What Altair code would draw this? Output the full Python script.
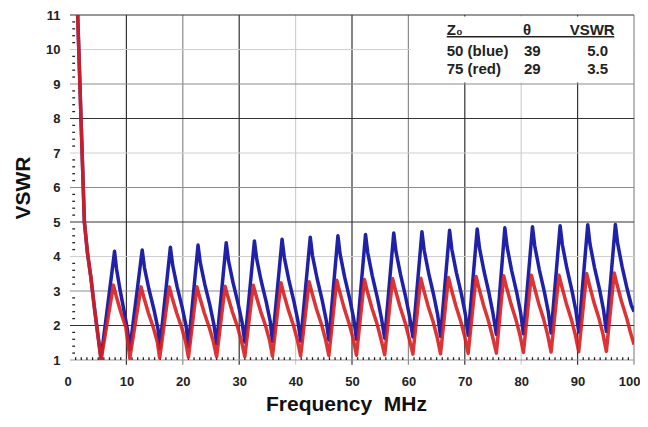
import altair as alt
import pandas as pd

# ---- data ----
blue_f = [1.3, 1.5, 1.95, 2.15, 2.35, 2.55, 3.1, 3.7, 4.3, 4.9, 5.5,
          7.9, 8.25, 8.9, 9.6, 10.2, 10.6,
          12.8, 13.2, 14.0, 14.9, 15.6, 15.9,
          17.8, 18.2, 19.0, 19.9, 20.6, 21.0,
          22.7, 23.1, 23.9, 24.8, 25.5, 26.0,
          27.7, 28.1, 28.9, 29.8, 30.5, 31.0,
          32.7, 33.1, 33.9, 34.8, 35.5, 35.9,
          37.6, 38.0, 38.8, 39.7, 40.4, 40.9,
          42.6, 43.0, 43.8, 44.7, 45.4, 45.9,
          47.5, 47.9, 48.7, 49.6, 50.3, 50.8,
          52.4, 52.8, 53.6, 54.5, 55.2, 55.8,
          57.4, 57.8, 58.6, 59.5, 60.2, 60.8,
          62.4, 62.8, 63.6, 64.5, 65.2, 65.7,
          67.3, 67.7, 68.5, 69.4, 70.1, 70.6,
          72.2, 72.6, 73.4, 74.3, 75.0, 75.6,
          77.1, 77.5, 78.3, 79.2, 79.9, 80.4,
          82.0, 82.4, 83.2, 84.1, 84.8, 85.3,
          86.9, 87.3, 88.1, 89.0, 89.7, 90.2,
          91.8, 92.2, 93.0, 93.9, 94.6, 95.1,
          96.7, 97.1, 97.9, 98.8, 99.5, 100.0]
blue_v = [11.3, 10.3, 8.0, 7.0, 6.0, 5.0, 4.1, 3.4, 2.55, 1.78, 1.05,
          4.15, 3.64, 3.01, 2.41, 1.87, 1.30,
          4.19, 3.68, 3.05, 2.45, 1.90, 1.33,
          4.27, 3.75, 3.12, 2.52, 1.97, 1.40,
          4.33, 3.82, 3.19, 2.59, 2.04, 1.47,
          4.40, 3.88, 3.25, 2.64, 2.10, 1.52,
          4.45, 3.93, 3.29, 2.68, 2.12, 1.54,
          4.50, 3.97, 3.32, 2.70, 2.14, 1.55,
          4.56, 4.02, 3.37, 2.74, 2.18, 1.58,
          4.60, 4.06, 3.40, 2.77, 2.20, 1.60,
          4.64, 4.10, 3.44, 2.80, 2.23, 1.63,
          4.68, 4.14, 3.48, 2.84, 2.27, 1.67,
          4.72, 4.18, 3.51, 2.87, 2.30, 1.69,
          4.76, 4.21, 3.54, 2.91, 2.33, 1.72,
          4.80, 4.25, 3.58, 2.93, 2.35, 1.74,
          4.83, 4.28, 3.60, 2.96, 2.37, 1.76,
          4.86, 4.31, 3.63, 2.98, 2.40, 1.78,
          4.89, 4.34, 3.66, 3.01, 2.43, 1.81,
          4.92, 4.36, 3.68, 3.04, 2.45, 1.83,
          4.93, 4.38, 3.70, 3.05, 2.60, 2.40]

red_f = [1.3, 1.5, 1.95, 2.15, 2.35, 2.55, 3.1, 3.7, 4.3, 4.9, 5.5,
         7.7, 8.2, 9.0, 9.9, 10.3, 10.6,
         12.6, 13.1, 13.9, 14.8, 15.5, 15.9,
         17.6, 18.1, 18.9, 19.8, 20.5, 21.0,
         22.5, 23.0, 23.8, 24.7, 25.4, 26.0,
         27.5, 28.0, 28.8, 29.7, 30.4, 31.0,
         32.5, 33.0, 33.8, 34.7, 35.4, 35.9,
         37.4, 37.9, 38.7, 39.6, 40.3, 40.9,
         42.4, 42.9, 43.7, 44.6, 45.3, 45.9,
         47.3, 47.8, 48.6, 49.5, 50.2, 50.8,
         52.2, 52.7, 53.5, 54.4, 55.1, 55.8,
         57.2, 57.7, 58.5, 59.4, 60.1, 60.8,
         62.2, 62.7, 63.5, 64.4, 65.1, 65.7,
         67.1, 67.6, 68.4, 69.3, 70.0, 70.6,
         72.0, 72.5, 73.3, 74.2, 74.9, 75.6,
         76.9, 77.4, 78.2, 79.1, 79.8, 80.4,
         81.8, 82.3, 83.1, 84.0, 84.7, 85.3,
         86.7, 87.2, 88.0, 88.9, 89.6, 90.2,
         91.6, 92.1, 92.9, 93.8, 94.5, 95.1,
         96.5, 97.0, 97.8, 98.7, 99.4, 100.0]
red_v = [11.3, 10.3, 8.0, 7.0, 6.0, 5.0, 4.1, 3.4, 2.55, 1.78, 1.00,
         3.17, 2.85, 2.39, 1.94, 1.47, 1.05,
         3.12, 2.81, 2.36, 1.93, 1.51, 1.06,
         3.12, 2.81, 2.37, 1.94, 1.53, 1.08,
         3.12, 2.82, 2.37, 1.94, 1.54, 1.09,
         3.14, 2.83, 2.39, 1.96, 1.55, 1.10,
         3.17, 2.86, 2.41, 1.98, 1.56, 1.11,
         3.24, 2.92, 2.46, 2.01, 1.59, 1.12,
         3.27, 2.95, 2.48, 2.03, 1.60, 1.13,
         3.31, 2.99, 2.51, 2.05, 1.62, 1.14,
         3.33, 3.00, 2.52, 2.07, 1.63, 1.15,
         3.36, 3.03, 2.55, 2.09, 1.65, 1.17,
         3.37, 3.04, 2.56, 2.10, 1.66, 1.18,
         3.39, 3.06, 2.58, 2.11, 1.67, 1.19,
         3.42, 3.09, 2.60, 2.13, 1.69, 1.20,
         3.44, 3.11, 2.62, 2.15, 1.71, 1.22,
         3.46, 3.13, 2.64, 2.17, 1.72, 1.23,
         3.46, 3.13, 2.64, 2.17, 1.73, 1.24,
         3.51, 3.17, 2.67, 2.20, 1.75, 1.25,
         3.52, 3.18, 2.69, 2.22, 1.78, 1.45]

x_ticks = [0, 10, 20, 30, 40, 50, 60, 70, 80, 90, 100]
y_ticks = [1, 2, 3, 4, 5, 6, 7, 8, 9, 10, 11]

grid_x = [10, 20, 30, 40, 50, 60, 70, 80, 90, 100]
grid_x_col = ["#333333", "#8c8c8c", "#333333", "#cfcfcf", "#333333",
              "#8c8c8c", "#333333", "#cfcfcf", "#333333", "#8c8c8c"]
grid_y = [2, 3, 4, 5, 6, 7, 8, 9, 10, 11]
grid_y_col = ["#333333", "#8c8c8c", "#cfcfcf", "#333333", "#8c8c8c",
              "#cfcfcf", "#333333", "#8c8c8c", "#cfcfcf", "#333333"]

table_text = ["Z\u2080", "\u03b8", "VSWR",
              "50 (blue)", "39", "5.0",
              "75 (red)", "29", "3.5"]
table_x = [66.8, 80.3, 88.6, 66.8, 80.5, 91.7, 66.8, 80.5, 91.7]
table_y = [10.41, 10.41, 10.41, 9.80, 9.80, 9.80, 9.28, 9.28, 9.28]

# ---- tables ----
lines = pd.concat([
    pd.DataFrame({"f": blue_f, "v": blue_v, "s": "blue", "i": range(len(blue_f))}),
    pd.DataFrame({"f": red_f, "v": red_v, "s": "red", "i": range(len(red_f))}),
])
gx = pd.DataFrame({"x": grid_x, "c": grid_x_col, "y0": 0.86, "y1": 11})
gy = pd.DataFrame({"y": grid_y, "c": grid_y_col, "x0": 0, "x1": 100})
minor_y = pd.DataFrame({"y": [round(1 + 0.2 * k, 2) for k in range(1, 50) if k % 5 != 0],
                        "x0": 0.4, "x1": 0.9})
minor_x = pd.DataFrame({"x": [k for k in range(1, 100) if k % 10 != 0],
                        "y0": 1.0, "y1": 1.08})
tbl = pd.DataFrame({"t": table_text, "x": table_x, "y": table_y})

W, H = 564, 345
xs = alt.Scale(domain=[0, 100], nice=False, zero=False)
ys = alt.Scale(domain=[1, 11], nice=False, zero=False)

lab = dict(labelFont="Liberation Sans", labelFontWeight="bold", labelFontSize=13,
           labelColor="#222222", ticks=False, domain=False, grid=False,
           titleFont="Liberation Sans", titleFontWeight="bold", titleFontSize=21,
           titleColor="#111111")
x_axis = alt.Axis(values=x_ticks, title="Frequency\u00a0\u00a0MHz", labelPadding=15,
                  titlePadding=5, titleX=276, labelFlush=True, labelFlushOffset=6,
                  labelOverlap=False, **lab)
y_axis = alt.Axis(values=y_ticks, title="VSWR", labelPadding=10, titlePadding=12,
                  labelOverlap=False, **lab)


def X(field):
    return alt.X(field, scale=xs, axis=x_axis)


def Y(field):
    return alt.Y(field, scale=ys, axis=y_axis)


vgrid = alt.Chart(gx).mark_rule(strokeWidth=1.2).encode(
    x=X("x:Q"), y=Y("y0:Q"), y2="y1:Q", color=alt.Color("c:N", scale=None))
hgrid = alt.Chart(gy).mark_rule(strokeWidth=1.2).encode(
    y=Y("y:Q"), x=X("x0:Q"), x2="x1:Q", color=alt.Color("c:N", scale=None))
bottom = alt.Chart(pd.DataFrame({"y": [1], "x0": [0], "x1": [100]})).mark_rule(
    color="#9a9a9a", strokeWidth=1.2).encode(y=Y("y:Q"), x=X("x0:Q"), x2="x1:Q")
box = alt.Chart(pd.DataFrame({"x0": [60.35], "x1": [99.75], "y0": [9.04], "y1": [10.96]})).mark_rect(
    color="white").encode(x=X("x0:Q"), x2="x1:Q", y=Y("y0:Q"), y2="y1:Q")
ytk = alt.Chart(minor_y).mark_rule(color="#222222", strokeWidth=1.3).encode(
    y=Y("y:Q"), x=X("x0:Q"), x2="x1:Q")
xtk = alt.Chart(minor_x).mark_rule(color="#222222", strokeWidth=1.3).encode(
    x=X("x:Q"), y=Y("y0:Q"), y2="y1:Q")

blue = alt.Chart(lines).transform_filter("datum.s == 'blue'").mark_line(
    color="#1f22a8", strokeWidth=3.5, clip=True, strokeJoin="round").encode(
    x=X("f:Q"), y=Y("v:Q"), order="i:Q")
red = alt.Chart(lines).transform_filter("datum.s == 'red'").mark_line(
    color="#d81e1e", strokeWidth=3.5, clip=True, opacity=0.9, strokeJoin="round").encode(
    x=X("f:Q"), y=Y("v:Q"), order="i:Q")

texts = alt.Chart(tbl).mark_text(
    align="left", baseline="alphabetic", font="Liberation Sans", fontWeight="bold",
    fontSize=15, color="#222222").encode(x=X("x:Q"), y=Y("y:Q"), text="t:N")
uline = alt.Chart(pd.DataFrame({"y": [10.37], "x0": [66.8], "x1": [96.5]})).mark_rule(
    color="#222222", strokeWidth=1.5).encode(y=Y("y:Q"), x=X("x0:Q"), x2="x1:Q")

chart = alt.layer(vgrid, hgrid, bottom, box, ytk, xtk, blue, red, texts, uline).properties(
    width=W, height=H,
    padding={"left": 62, "top": 7, "right": 6, "bottom": 55},
    autosize=alt.AutoSizeParams(type="none"),
    background="white",
).configure_view(stroke=None)

chart.save("out.html", embed_options={"renderer": "svg", "actions": False})
